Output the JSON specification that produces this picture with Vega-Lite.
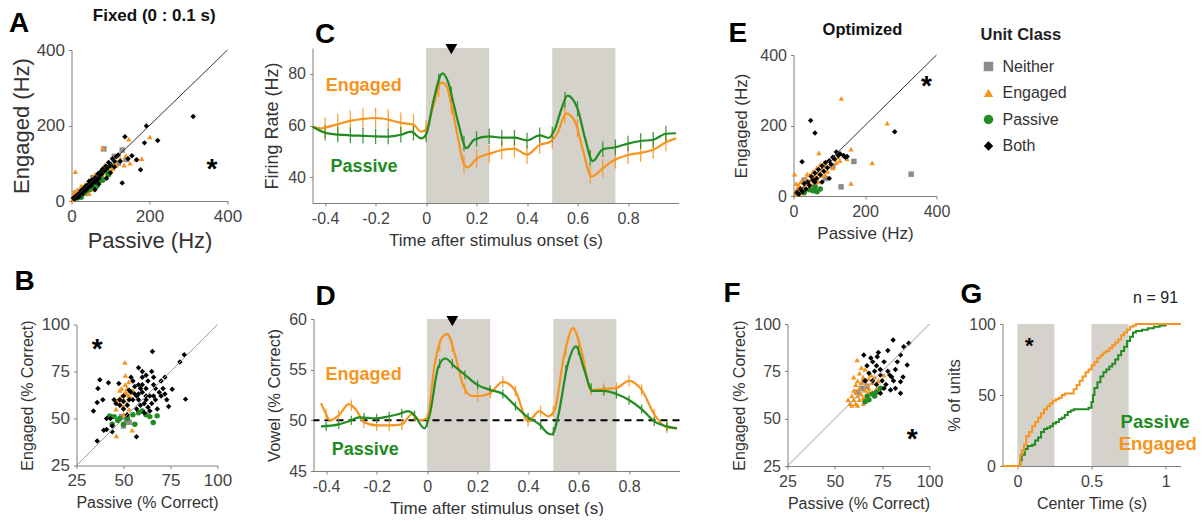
{
"$schema": "https://vega.github.io/schema/vega-lite/v6.json",
"padding": {"left": 8.5, "top": 6, "right": 0, "bottom": 0},
"config": {
  "font": "Liberation Sans",
  "view": {"stroke": null},
  "axis": {"grid": false, "domainColor": "#7f7f7f", "tickColor": "#7f7f7f", "tickSize": 3, "labelColor": "#444444", "titleColor": "#333333", "titleFontWeight": "normal", "labelFlush": false, "labelOverlap": false, "labelPadding": 4, "titlePadding": 6}
},
"resolve": {"scale": {"color": "independent", "shape": "independent"}},
"datasets": {
  "shade": [{"s": 0, "e": 0.25}, {"s": 0.5, "e": 0.75}],
  "a": [
    {"x":10,"y":20,"c":"Neither"},{"x":20,"y":25,"c":"Neither"},{"x":35,"y":30,"c":"Neither"},{"x":50,"y":48,"c":"Neither"},{"x":60,"y":50,"c":"Neither"},{"x":75,"y":70,"c":"Neither"},{"x":83,"y":138,"c":"Neither"},{"x":90,"y":85,"c":"Neither"},{"x":100,"y":92,"c":"Neither"},{"x":120,"y":100,"c":"Neither"},{"x":130,"y":135,"c":"Neither"},{"x":110,"y":118,"c":"Neither"},{"x":140,"y":110,"c":"Neither"},{"x":55,"y":62,"c":"Neither"},{"x":40,"y":20,"c":"Neither"},
    {"x":10,"y":78,"c":"Engaged"},{"x":201,"y":170,"c":"Engaged"},{"x":147,"y":164,"c":"Engaged"},{"x":80,"y":140,"c":"Engaged"},{"x":135,"y":95,"c":"Engaged"},{"x":140,"y":120,"c":"Engaged"},{"x":150,"y":100,"c":"Engaged"},{"x":165,"y":110,"c":"Engaged"},{"x":180,"y":112,"c":"Engaged"},{"x":125,"y":112,"c":"Engaged"},{"x":115,"y":95,"c":"Engaged"},{"x":110,"y":100,"c":"Engaged"},{"x":100,"y":90,"c":"Engaged"},{"x":95,"y":80,"c":"Engaged"},{"x":90,"y":75,"c":"Engaged"},{"x":85,"y":95,"c":"Engaged"},{"x":70,"y":60,"c":"Engaged"},{"x":65,"y":50,"c":"Engaged"},{"x":60,"y":70,"c":"Engaged"},{"x":55,"y":40,"c":"Engaged"},{"x":45,"y":55,"c":"Engaged"},{"x":40,"y":30,"c":"Engaged"},{"x":35,"y":45,"c":"Engaged"},{"x":30,"y":22,"c":"Engaged"},{"x":25,"y":40,"c":"Engaged"},{"x":20,"y":12,"c":"Engaged"},{"x":15,"y":30,"c":"Engaged"},{"x":8,"y":25,"c":"Engaged"},{"x":5,"y":15,"c":"Engaged"},{"x":50,"y":30,"c":"Engaged"},{"x":75,"y":55,"c":"Engaged"},{"x":88,"y":65,"c":"Engaged"},{"x":105,"y":85,"c":"Engaged"},{"x":45,"y":20,"c":"Engaged"},{"x":28,"y":28,"c":"Engaged"},{"x":3,"y":3,"c":"Engaged"},
    {"x":15,"y":8,"c":"Passive"},{"x":20,"y":15,"c":"Passive"},{"x":30,"y":20,"c":"Passive"},{"x":35,"y":25,"c":"Passive"},{"x":40,"y":35,"c":"Passive"},{"x":45,"y":30,"c":"Passive"},{"x":50,"y":40,"c":"Passive"},{"x":55,"y":45,"c":"Passive"},{"x":60,"y":35,"c":"Passive"},{"x":70,"y":55,"c":"Passive"},{"x":75,"y":65,"c":"Passive"},{"x":80,"y":55,"c":"Passive"},{"x":90,"y":80,"c":"Passive"},{"x":95,"y":70,"c":"Passive"},{"x":100,"y":95,"c":"Passive"},{"x":25,"y":10,"c":"Passive"},{"x":65,"y":40,"c":"Passive"},
    {"x":312,"y":224,"c":"Both"},{"x":192,"y":199,"c":"Both"},{"x":221,"y":160,"c":"Both"},{"x":187,"y":154,"c":"Both"},{"x":137,"y":170,"c":"Both"},{"x":177,"y":83,"c":"Both"},{"x":167,"y":109,"c":"Both"},{"x":130,"y":48,"c":"Both"},{"x":155,"y":120,"c":"Both"},{"x":145,"y":112,"c":"Both"},{"x":120,"y":122,"c":"Both"},{"x":115,"y":118,"c":"Both"},{"x":110,"y":105,"c":"Both"},{"x":105,"y":112,"c":"Both"},{"x":100,"y":95,"c":"Both"},{"x":95,"y":102,"c":"Both"},{"x":92,"y":88,"c":"Both"},{"x":88,"y":92,"c":"Both"},{"x":85,"y":80,"c":"Both"},{"x":80,"y":85,"c":"Both"},{"x":78,"y":72,"c":"Both"},{"x":75,"y":78,"c":"Both"},{"x":72,"y":68,"c":"Both"},{"x":70,"y":60,"c":"Both"},{"x":68,"y":72,"c":"Both"},{"x":65,"y":55,"c":"Both"},{"x":62,"y":62,"c":"Both"},{"x":60,"y":50,"c":"Both"},{"x":58,"y":58,"c":"Both"},{"x":55,"y":48,"c":"Both"},{"x":52,"y":55,"c":"Both"},{"x":50,"y":40,"c":"Both"},{"x":48,"y":45,"c":"Both"},{"x":45,"y":52,"c":"Both"},{"x":42,"y":35,"c":"Both"},{"x":40,"y":42,"c":"Both"},{"x":38,"y":30,"c":"Both"},{"x":35,"y":38,"c":"Both"},{"x":32,"y":25,"c":"Both"},{"x":30,"y":32,"c":"Both"},{"x":28,"y":20,"c":"Both"},{"x":25,"y":28,"c":"Both"},{"x":22,"y":22,"c":"Both"},{"x":20,"y":12,"c":"Both"},{"x":18,"y":18,"c":"Both"},{"x":15,"y":10,"c":"Both"},{"x":12,"y":14,"c":"Both"},{"x":8,"y":5,"c":"Both"},{"x":5,"y":8,"c":"Both"},{"x":125,"y":105,"c":"Both"},{"x":70,"y":45,"c":"Both"},{"x":90,"y":60,"c":"Both"},{"x":60,"y":30,"c":"Both"},{"x":100,"y":75,"c":"Both"},{"x":110,"y":90,"c":"Both"}
  ],
  "b": [
    {"x":51.6,"y":48.8,"c":"Neither"},{"x":52,"y":50,"c":"Neither"},{"x":50,"y":46,"c":"Neither"},{"x":53,"y":48,"c":"Neither"},{"x":49,"y":51,"c":"Neither"},
    {"x":50.7,"y":79.8,"c":"Engaged"},{"x":52.8,"y":69.5,"c":"Engaged"},{"x":46.2,"y":40.8,"c":"Engaged"},{"x":54.6,"y":43.8,"c":"Engaged"},{"x":48,"y":65,"c":"Engaged"},{"x":49,"y":62,"c":"Engaged"},{"x":50,"y":60,"c":"Engaged"},{"x":51,"y":64,"c":"Engaged"},{"x":52,"y":58,"c":"Engaged"},{"x":53,"y":62,"c":"Engaged"},{"x":48,"y":58,"c":"Engaged"},{"x":49,"y":66,"c":"Engaged"},{"x":50,"y":56,"c":"Engaged"},{"x":51,"y":68,"c":"Engaged"},{"x":52,"y":63,"c":"Engaged"},{"x":53,"y":55,"c":"Engaged"},{"x":47,"y":60,"c":"Engaged"},{"x":54,"y":61,"c":"Engaged"},{"x":50,"y":52,"c":"Engaged"},{"x":46,"y":55,"c":"Engaged"},{"x":52,"y":66,"c":"Engaged"},{"x":49,"y":57,"c":"Engaged"},{"x":55,"y":65,"c":"Engaged"},{"x":51,"y":73,"c":"Engaged"},
    {"x":42.6,"y":51.4,"c":"Passive"},{"x":65.8,"y":47.9,"c":"Passive"},{"x":67.9,"y":51.4,"c":"Passive"},{"x":45,"y":51,"c":"Passive"},{"x":48,"y":50,"c":"Passive"},{"x":52,"y":50,"c":"Passive"},{"x":55,"y":52,"c":"Passive"},{"x":58,"y":53,"c":"Passive"},{"x":60,"y":54,"c":"Passive"},{"x":62,"y":52,"c":"Passive"},{"x":64,"y":51,"c":"Passive"},{"x":47,"y":49,"c":"Passive"},{"x":50,"y":47,"c":"Passive"},{"x":56,"y":47,"c":"Passive"},{"x":44,"y":47,"c":"Passive"},
    {"x":36,"y":38,"c":"Both"},{"x":34,"y":54,"c":"Both"},{"x":36,"y":58.5,"c":"Both"},{"x":37.4,"y":70.6,"c":"Both"},{"x":36.4,"y":66,"c":"Both"},{"x":42,"y":69,"c":"Both"},{"x":47.5,"y":68.6,"c":"Both"},{"x":65.4,"y":85.6,"c":"Both"},{"x":83,"y":60.3,"c":"Both"},{"x":82.3,"y":83.9,"c":"Both"},{"x":80,"y":80,"c":"Both"},{"x":75.9,"y":65.6,"c":"Both"},{"x":74,"y":56.4,"c":"Both"},{"x":56.9,"y":40.3,"c":"Both"},{"x":39.5,"y":43.8,"c":"Both"},{"x":41,"y":44.2,"c":"Both"},{"x":44,"y":46,"c":"Both"},{"x":43,"y":50,"c":"Both"},{"x":46,"y":58,"c":"Both"},{"x":48,"y":60,"c":"Both"},{"x":50,"y":62,"c":"Both"},{"x":52,"y":57,"c":"Both"},{"x":53,"y":65,"c":"Both"},{"x":54,"y":72,"c":"Both"},{"x":55,"y":60,"c":"Both"},{"x":56,"y":63,"c":"Both"},{"x":57,"y":55,"c":"Both"},{"x":58,"y":68,"c":"Both"},{"x":58,"y":60,"c":"Both"},{"x":59,"y":57,"c":"Both"},{"x":60,"y":72,"c":"Both"},{"x":60,"y":64,"c":"Both"},{"x":61,"y":58,"c":"Both"},{"x":62,"y":66,"c":"Both"},{"x":62,"y":60,"c":"Both"},{"x":63,"y":70,"c":"Both"},{"x":63,"y":56,"c":"Both"},{"x":64,"y":62,"c":"Both"},{"x":65,"y":75,"c":"Both"},{"x":65,"y":58,"c":"Both"},{"x":66,"y":68,"c":"Both"},{"x":66,"y":62,"c":"Both"},{"x":67,"y":60,"c":"Both"},{"x":68,"y":55,"c":"Both"},{"x":69,"y":64,"c":"Both"},{"x":70,"y":70,"c":"Both"},{"x":70,"y":62,"c":"Both"},{"x":72,"y":72,"c":"Both"},{"x":72,"y":63,"c":"Both"},{"x":73,"y":60,"c":"Both"},{"x":60,"y":75,"c":"Both"},{"x":58,"y":77,"c":"Both"},{"x":55,"y":70,"c":"Both"},{"x":52,"y":52,"c":"Both"},{"x":50,"y":55,"c":"Both"},{"x":48,"y":57,"c":"Both"},{"x":61,"y":53,"c":"Both"},{"x":64,"y":54,"c":"Both"},{"x":67,"y":66,"c":"Both"},{"x":57,"y":62,"c":"Both"},{"x":59,"y":66,"c":"Both"},{"x":62,"y":73,"c":"Both"},{"x":66,"y":72,"c":"Both"},{"x":53,"y":60,"c":"Both"},{"x":56,"y":67,"c":"Both"},{"x":71,"y":66,"c":"Both"},{"x":60,"y":68,"c":"Both"},{"x":54,"y":64,"c":"Both"},{"x":58,"y":63,"c":"Both"},{"x":62,"y":62,"c":"Both"},{"x":50,"y":59,"c":"Both"},{"x":45,"y":60,"c":"Both"},{"x":41,"y":50,"c":"Both"},{"x":44,"y":43,"c":"Both"},{"x":39,"y":60,"c":"Both"}
  ],
  "e": [
    {"x":329,"y":62,"c":"Neither"},{"x":169,"y":98,"c":"Neither"},{"x":133,"y":26,"c":"Neither"},{"x":30,"y":45,"c":"Neither"},{"x":60,"y":30,"c":"Neither"},{"x":90,"y":50,"c":"Neither"},{"x":20,"y":15,"c":"Neither"},{"x":110,"y":85,"c":"Neither"},
    {"x":134,"y":277,"c":"Engaged"},{"x":262,"y":207,"c":"Engaged"},{"x":220,"y":94,"c":"Engaged"},{"x":161,"y":133,"c":"Engaged"},{"x":161,"y":36,"c":"Engaged"},{"x":3,"y":62,"c":"Engaged"},{"x":71,"y":122,"c":"Engaged"},{"x":5,"y":10,"c":"Engaged"},{"x":10,"y":20,"c":"Engaged"},{"x":15,"y":30,"c":"Engaged"},{"x":20,"y":40,"c":"Engaged"},{"x":25,"y":15,"c":"Engaged"},{"x":30,"y":25,"c":"Engaged"},{"x":35,"y":50,"c":"Engaged"},{"x":40,"y":35,"c":"Engaged"},{"x":45,"y":60,"c":"Engaged"},{"x":50,"y":45,"c":"Engaged"},{"x":55,"y":70,"c":"Engaged"},{"x":60,"y":55,"c":"Engaged"},{"x":65,"y":80,"c":"Engaged"},{"x":70,"y":65,"c":"Engaged"},{"x":75,"y":90,"c":"Engaged"},{"x":80,"y":75,"c":"Engaged"},{"x":85,"y":95,"c":"Engaged"},{"x":90,"y":85,"c":"Engaged"},{"x":95,"y":70,"c":"Engaged"},{"x":100,"y":100,"c":"Engaged"},{"x":105,"y":90,"c":"Engaged"},{"x":110,"y":80,"c":"Engaged"},{"x":115,"y":105,"c":"Engaged"},{"x":120,"y":95,"c":"Engaged"},{"x":125,"y":110,"c":"Engaged"},{"x":130,"y":100,"c":"Engaged"},{"x":140,"y":115,"c":"Engaged"},{"x":150,"y":105,"c":"Engaged"},{"x":12,"y":5,"c":"Engaged"},{"x":18,"y":25,"c":"Engaged"},{"x":28,"y":8,"c":"Engaged"},{"x":8,"y":35,"c":"Engaged"},{"x":42,"y":20,"c":"Engaged"},{"x":52,"y":30,"c":"Engaged"},{"x":38,"y":62,"c":"Engaged"},{"x":62,"y":48,"c":"Engaged"},{"x":88,"y":60,"c":"Engaged"},{"x":70,"y":40,"c":"Engaged"},{"x":78,"y":58,"c":"Engaged"},
    {"x":66,"y":12,"c":"Passive"},{"x":55,"y":15,"c":"Passive"},{"x":45,"y":18,"c":"Passive"},{"x":30,"y":10,"c":"Passive"},{"x":75,"y":20,"c":"Passive"},{"x":60,"y":25,"c":"Passive"},
    {"x":283,"y":182,"c":"Both"},{"x":48,"y":214,"c":"Both"},{"x":60,"y":179,"c":"Both"},{"x":24,"y":97,"c":"Both"},{"x":10,"y":10,"c":"Both"},{"x":20,"y":20,"c":"Both"},{"x":30,"y":35,"c":"Both"},{"x":40,"y":40,"c":"Both"},{"x":50,"y":55,"c":"Both"},{"x":55,"y":45,"c":"Both"},{"x":60,"y":65,"c":"Both"},{"x":65,"y":50,"c":"Both"},{"x":70,"y":75,"c":"Both"},{"x":75,"y":60,"c":"Both"},{"x":80,"y":85,"c":"Both"},{"x":85,"y":70,"c":"Both"},{"x":90,"y":95,"c":"Both"},{"x":95,"y":80,"c":"Both"},{"x":100,"y":100,"c":"Both"},{"x":105,"y":90,"c":"Both"},{"x":110,"y":110,"c":"Both"},{"x":115,"y":105,"c":"Both"},{"x":120,"y":125,"c":"Both"},{"x":125,"y":115,"c":"Both"},{"x":130,"y":120,"c":"Both"},{"x":140,"y":115,"c":"Both"},{"x":145,"y":110,"c":"Both"},{"x":150,"y":112,"c":"Both"},{"x":100,"y":50,"c":"Both"},{"x":80,"y":40,"c":"Both"},{"x":60,"y":40,"c":"Both"},{"x":45,"y":30,"c":"Both"},{"x":35,"y":20,"c":"Both"},{"x":15,"y":5,"c":"Both"},{"x":25,"y":12,"c":"Both"}
  ],
  "f": [
    {"x":65.6,"y":70,"c":"Neither"},{"x":64,"y":66,"c":"Neither"},{"x":62,"y":64,"c":"Neither"},{"x":67,"y":67,"c":"Neither"},
    {"x":61.8,"y":81,"c":"Engaged"},{"x":58,"y":58,"c":"Engaged"},{"x":59,"y":62,"c":"Engaged"},{"x":60,"y":60,"c":"Engaged"},{"x":60,"y":65,"c":"Engaged"},{"x":61,"y":58,"c":"Engaged"},{"x":61,"y":68,"c":"Engaged"},{"x":62,"y":62,"c":"Engaged"},{"x":62,"y":70,"c":"Engaged"},{"x":63,"y":60,"c":"Engaged"},{"x":63,"y":66,"c":"Engaged"},{"x":63,"y":74,"c":"Engaged"},{"x":64,"y":63,"c":"Engaged"},{"x":64,"y":69,"c":"Engaged"},{"x":65,"y":61,"c":"Engaged"},{"x":65,"y":72,"c":"Engaged"},{"x":66,"y":65,"c":"Engaged"},{"x":66,"y":76,"c":"Engaged"},{"x":67,"y":68,"c":"Engaged"},{"x":67,"y":62,"c":"Engaged"},{"x":68,"y":71,"c":"Engaged"},{"x":68,"y":66,"c":"Engaged"},{"x":69,"y":73,"c":"Engaged"},{"x":70,"y":64,"c":"Engaged"},{"x":70,"y":69,"c":"Engaged"},{"x":71,"y":72,"c":"Engaged"},{"x":72,"y":66,"c":"Engaged"},{"x":73,"y":70,"c":"Engaged"},{"x":59,"y":57,"c":"Engaged"},{"x":62,"y":57,"c":"Engaged"},{"x":65,"y":58,"c":"Engaged"},{"x":60,"y":72,"c":"Engaged"},{"x":64,"y":77,"c":"Engaged"},{"x":66,"y":60,"c":"Engaged"},{"x":68,"y":64,"c":"Engaged"},{"x":61,"y":64,"c":"Engaged"},{"x":76,"y":73,"c":"Engaged"},{"x":57,"y":60,"c":"Engaged"},
    {"x":74.1,"y":66.1,"c":"Passive"},{"x":67.1,"y":61.8,"c":"Passive"},{"x":69.8,"y":63,"c":"Passive"},{"x":71,"y":62,"c":"Passive"},{"x":72,"y":64,"c":"Passive"},{"x":66,"y":59,"c":"Passive"},{"x":68,"y":60,"c":"Passive"},
    {"x":80.8,"y":91.6,"c":"Both"},{"x":89,"y":89.8,"c":"Both"},{"x":86.4,"y":88,"c":"Both"},{"x":84.7,"y":83.6,"c":"Both"},{"x":65.3,"y":83.6,"c":"Both"},{"x":72.4,"y":82.7,"c":"Both"},{"x":88.2,"y":78.4,"c":"Both"},{"x":84.7,"y":63.4,"c":"Both"},{"x":79.4,"y":65.1,"c":"Both"},{"x":74.1,"y":63.4,"c":"Both"},{"x":84.7,"y":69.5,"c":"Both"},{"x":70,"y":80,"c":"Both"},{"x":72,"y":78,"c":"Both"},{"x":74,"y":76,"c":"Both"},{"x":76,"y":80,"c":"Both"},{"x":78,"y":75,"c":"Both"},{"x":80,"y":72,"c":"Both"},{"x":82,"y":76,"c":"Both"},{"x":68,"y":74,"c":"Both"},{"x":70,"y":70,"c":"Both"},{"x":72,"y":68,"c":"Both"},{"x":75,"y":70,"c":"Both"},{"x":77,"y":68,"c":"Both"},{"x":79,"y":73,"c":"Both"},{"x":81,"y":70,"c":"Both"},{"x":74,"y":73,"c":"Both"},{"x":76,"y":66,"c":"Both"},{"x":86,"y":72,"c":"Both"},{"x":83,"y":80,"c":"Both"},{"x":67,"y":78,"c":"Both"},{"x":69,"y":82,"c":"Both"},{"x":73,"y":85,"c":"Both"},{"x":78,"y":86,"c":"Both"},{"x":71,"y":75,"c":"Both"},{"x":66,"y":70,"c":"Both"},{"x":82,"y":66,"c":"Both"}
  ],
  "cE": [{"t":-0.45,"v":59.6},{"t":-0.42,"v":58.9},{"t":-0.4,"v":59.2},{"t":-0.35,"v":60.5},{"t":-0.3,"v":61.8},{"t":-0.25,"v":62.6},{"t":-0.2,"v":62.9},{"t":-0.15,"v":62.3},{"t":-0.1,"v":61.0},{"t":-0.05,"v":60.4},{"t":-0.02,"v":57.6},{"t":0,"v":58.5},{"t":0.03,"v":68},{"t":0.06,"v":76.6},{"t":0.08,"v":75.5},{"t":0.1,"v":68},{"t":0.125,"v":56},{"t":0.15,"v":45},{"t":0.165,"v":43.8},{"t":0.2,"v":47.2},{"t":0.25,"v":49.0},{"t":0.3,"v":50.5},{"t":0.35,"v":51.0},{"t":0.4,"v":48.7},{"t":0.45,"v":52.5},{"t":0.49,"v":53.6},{"t":0.52,"v":57},{"t":0.555,"v":64.7},{"t":0.59,"v":61.5},{"t":0.62,"v":51},{"t":0.655,"v":40.2},{"t":0.67,"v":40.8},{"t":0.7,"v":43.5},{"t":0.75,"v":46.8},{"t":0.8,"v":48.6},{"t":0.85,"v":49.4},{"t":0.9,"v":50.6},{"t":0.95,"v":53.5},{"t":0.99,"v":55.0}],
  "cP": [{"t":-0.45,"v":59.5},{"t":-0.4,"v":57.2},{"t":-0.35,"v":56.5},{"t":-0.3,"v":56.2},{"t":-0.25,"v":56.0},{"t":-0.2,"v":55.8},{"t":-0.15,"v":55.7},{"t":-0.1,"v":56.4},{"t":-0.06,"v":57.6},{"t":-0.02,"v":55.0},{"t":0,"v":56.5},{"t":0.03,"v":70},{"t":0.065,"v":80.2},{"t":0.09,"v":76},{"t":0.11,"v":68},{"t":0.13,"v":60},{"t":0.16,"v":51.2},{"t":0.19,"v":54.5},{"t":0.25,"v":55.8},{"t":0.3,"v":55.3},{"t":0.35,"v":55.3},{"t":0.4,"v":54.2},{"t":0.45,"v":56.2},{"t":0.485,"v":55.2},{"t":0.51,"v":58.5},{"t":0.535,"v":66},{"t":0.56,"v":71.6},{"t":0.6,"v":66.5},{"t":0.63,"v":55},{"t":0.66,"v":46.2},{"t":0.7,"v":50.8},{"t":0.75,"v":51.6},{"t":0.8,"v":53.0},{"t":0.85,"v":54.0},{"t":0.9,"v":54.5},{"t":0.95,"v":56.8},{"t":0.99,"v":57.0}],
  "cEe": [{"t":-0.4,"lo":55.2,"hi":63.2},{"t":-0.35,"lo":56.5,"hi":64.5},{"t":-0.3,"lo":57.8,"hi":65.8},{"t":-0.25,"lo":58.6,"hi":66.6},{"t":-0.2,"lo":58.9,"hi":66.9},{"t":-0.15,"lo":58.3,"hi":66.3},{"t":-0.1,"lo":57.0,"hi":65.0},{"t":-0.05,"lo":56.4,"hi":64.4},{"t":0,"lo":55,"hi":62},{"t":0.05,"lo":71,"hi":78},{"t":0.1,"lo":64.5,"hi":71.5},{"t":0.15,"lo":41.5,"hi":48.5},{"t":0.2,"lo":43.7,"hi":50.7},{"t":0.25,"lo":45.5,"hi":52.5},{"t":0.3,"lo":47,"hi":54},{"t":0.35,"lo":47.5,"hi":54.5},{"t":0.4,"lo":45.2,"hi":52.2},{"t":0.45,"lo":49,"hi":56},{"t":0.5,"lo":51,"hi":58},{"t":0.55,"lo":60.8,"hi":67.8},{"t":0.6,"lo":55.5,"hi":62.5},{"t":0.65,"lo":37.5,"hi":44.5},{"t":0.7,"lo":40,"hi":47},{"t":0.75,"lo":43.3,"hi":50.3},{"t":0.8,"lo":45.1,"hi":52.1},{"t":0.85,"lo":45.9,"hi":52.9},{"t":0.9,"lo":47.1,"hi":54.1},{"t":0.95,"lo":50,"hi":57}],
  "cPe": [{"t":-0.4,"lo":54.2,"hi":60.2},{"t":-0.35,"lo":53.5,"hi":59.5},{"t":-0.3,"lo":53.2,"hi":59.2},{"t":-0.25,"lo":53,"hi":59},{"t":-0.2,"lo":52.8,"hi":58.8},{"t":-0.15,"lo":52.7,"hi":58.7},{"t":-0.1,"lo":53.4,"hi":59.4},{"t":-0.05,"lo":54.2,"hi":60.2},{"t":0,"lo":53.5,"hi":59.5},{"t":0.05,"lo":74,"hi":80},{"t":0.1,"lo":69,"hi":75},{"t":0.15,"lo":50,"hi":56},{"t":0.2,"lo":51.8,"hi":57.8},{"t":0.25,"lo":52.8,"hi":58.8},{"t":0.3,"lo":52.3,"hi":58.3},{"t":0.35,"lo":52.3,"hi":58.3},{"t":0.4,"lo":51.2,"hi":57.2},{"t":0.45,"lo":53.2,"hi":59.2},{"t":0.5,"lo":53.5,"hi":59.5},{"t":0.55,"lo":67,"hi":73},{"t":0.6,"lo":63.5,"hi":69.5},{"t":0.65,"lo":44.5,"hi":50.5},{"t":0.7,"lo":47.8,"hi":53.8},{"t":0.75,"lo":48.6,"hi":54.6},{"t":0.8,"lo":50,"hi":56},{"t":0.85,"lo":51,"hi":57},{"t":0.9,"lo":51.5,"hi":57.5},{"t":0.95,"lo":53.8,"hi":59.8}],
  "dE": [{"t":-0.42,"v":51.7},{"t":-0.4,"v":50.6},{"t":-0.385,"v":50.0},{"t":-0.35,"v":50.5},{"t":-0.31,"v":51.6},{"t":-0.28,"v":51.0},{"t":-0.25,"v":49.8},{"t":-0.2,"v":49.5},{"t":-0.15,"v":49.5},{"t":-0.1,"v":49.6},{"t":-0.06,"v":50.6},{"t":-0.03,"v":50.0},{"t":0,"v":50.2},{"t":0.03,"v":55.5},{"t":0.06,"v":58.2},{"t":0.08,"v":58.5},{"t":0.11,"v":56.5},{"t":0.145,"v":53.3},{"t":0.18,"v":52.4},{"t":0.21,"v":52.4},{"t":0.25,"v":52.7},{"t":0.3,"v":53.8},{"t":0.35,"v":52.9},{"t":0.4,"v":49.9},{"t":0.445,"v":50.9},{"t":0.48,"v":50.4},{"t":0.505,"v":51.0},{"t":0.54,"v":56},{"t":0.578,"v":59.1},{"t":0.61,"v":57},{"t":0.65,"v":53},{"t":0.7,"v":53.1},{"t":0.75,"v":53.2},{"t":0.8,"v":53.9},{"t":0.85,"v":53.0},{"t":0.9,"v":50.6},{"t":0.95,"v":49.3},{"t":0.99,"v":49.2}],
  "dP": [{"t":-0.42,"v":49.4},{"t":-0.35,"v":49.6},{"t":-0.3,"v":50.0},{"t":-0.27,"v":50.3},{"t":-0.2,"v":50.2},{"t":-0.15,"v":50.4},{"t":-0.115,"v":50.6},{"t":-0.075,"v":50.9},{"t":-0.05,"v":50.5},{"t":-0.01,"v":49.2},{"t":0.01,"v":50.5},{"t":0.045,"v":55.3},{"t":0.072,"v":56.1},{"t":0.11,"v":55.3},{"t":0.15,"v":54.5},{"t":0.2,"v":53.5},{"t":0.25,"v":53.0},{"t":0.3,"v":52.6},{"t":0.35,"v":51.4},{"t":0.4,"v":50.3},{"t":0.445,"v":49.6},{"t":0.48,"v":48.7},{"t":0.495,"v":48.6},{"t":0.52,"v":50.5},{"t":0.555,"v":55.3},{"t":0.59,"v":57.3},{"t":0.62,"v":55.2},{"t":0.655,"v":52.9},{"t":0.7,"v":52.9},{"t":0.75,"v":52.6},{"t":0.8,"v":52.0},{"t":0.85,"v":51.1},{"t":0.9,"v":49.9},{"t":0.95,"v":49.4},{"t":0.99,"v":49.2}],
  "dEe": [{"t":-0.4,"lo":50.05,"hi":51.15},{"t":-0.35,"lo":49.95,"hi":51.05},{"t":-0.3,"lo":50.95,"hi":52.05},{"t":-0.25,"lo":49.25,"hi":50.35},{"t":-0.2,"lo":48.95,"hi":50.05},{"t":-0.15,"lo":48.95,"hi":50.05},{"t":-0.1,"lo":49.05,"hi":50.15},{"t":-0.05,"lo":49.85,"hi":50.95},{"t":0,"lo":49.65,"hi":50.75},{"t":0.05,"lo":56.85,"hi":57.95},{"t":0.1,"lo":56.75,"hi":57.85},{"t":0.15,"lo":52.55,"hi":53.65},{"t":0.2,"lo":51.85,"hi":52.95},{"t":0.25,"lo":52.15,"hi":53.25},{"t":0.3,"lo":53.25,"hi":54.35},{"t":0.35,"lo":52.35,"hi":53.45},{"t":0.4,"lo":49.35,"hi":50.45},{"t":0.45,"lo":50.35,"hi":51.45},{"t":0.5,"lo":50.35,"hi":51.45},{"t":0.55,"lo":56.45,"hi":57.55},{"t":0.6,"lo":57.25,"hi":58.35},{"t":0.65,"lo":52.45,"hi":53.55},{"t":0.7,"lo":52.55,"hi":53.65},{"t":0.75,"lo":52.65,"hi":53.75},{"t":0.8,"lo":53.35,"hi":54.45},{"t":0.85,"lo":52.45,"hi":53.55},{"t":0.9,"lo":50.05,"hi":51.15},{"t":0.95,"lo":48.75,"hi":49.85}],
  "dPe": [{"t":-0.4,"lo":48.95,"hi":49.85},{"t":-0.35,"lo":49.15,"hi":50.05},{"t":-0.3,"lo":49.55,"hi":50.45},{"t":-0.25,"lo":49.85,"hi":50.75},{"t":-0.2,"lo":49.75,"hi":50.65},{"t":-0.15,"lo":49.95,"hi":50.85},{"t":-0.1,"lo":50.25,"hi":51.15},{"t":-0.05,"lo":50.05,"hi":50.95},{"t":0,"lo":49.35,"hi":50.25},{"t":0.05,"lo":55.15,"hi":56.05},{"t":0.1,"lo":55.15,"hi":56.05},{"t":0.15,"lo":54.05,"hi":54.95},{"t":0.2,"lo":53.05,"hi":53.95},{"t":0.25,"lo":52.55,"hi":53.45},{"t":0.3,"lo":52.15,"hi":53.05},{"t":0.35,"lo":50.95,"hi":51.85},{"t":0.4,"lo":49.85,"hi":50.75},{"t":0.45,"lo":49.05,"hi":49.95},{"t":0.5,"lo":48.45,"hi":49.35},{"t":0.55,"lo":54.55,"hi":55.45},{"t":0.6,"lo":56.45,"hi":57.35},{"t":0.65,"lo":52.75,"hi":53.65},{"t":0.7,"lo":52.45,"hi":53.35},{"t":0.75,"lo":52.15,"hi":53.05},{"t":0.8,"lo":51.55,"hi":52.45},{"t":0.85,"lo":50.65,"hi":51.55},{"t":0.9,"lo":49.45,"hi":50.35},{"t":0.95,"lo":48.95,"hi":49.85}],
  "gE": [{"t":-0.1,"v":0},{"t":0.015,"v":0},{"t":0.02,"v":8},{"t":0.03,"v":11},{"t":0.045,"v":15},{"t":0.06,"v":21},{"t":0.08,"v":24},{"t":0.1,"v":28},{"t":0.12,"v":31},{"t":0.14,"v":34},{"t":0.16,"v":37},{"t":0.18,"v":40},{"t":0.2,"v":42},{"t":0.22,"v":44},{"t":0.24,"v":46},{"t":0.26,"v":47},{"t":0.28,"v":48},{"t":0.3,"v":50},{"t":0.32,"v":51},{"t":0.36,"v":51},{"t":0.38,"v":54},{"t":0.4,"v":57},{"t":0.42,"v":60},{"t":0.44,"v":63},{"t":0.46,"v":66},{"t":0.48,"v":68},{"t":0.5,"v":71},{"t":0.52,"v":73},{"t":0.54,"v":76},{"t":0.56,"v":78},{"t":0.58,"v":80},{"t":0.6,"v":81},{"t":0.62,"v":83},{"t":0.64,"v":85},{"t":0.66,"v":87},{"t":0.68,"v":89},{"t":0.7,"v":92},{"t":0.72,"v":94},{"t":0.74,"v":96},{"t":0.76,"v":98},{"t":0.78,"v":99},{"t":0.8,"v":100},{"t":1.1,"v":100}],
  "gP": [{"t":-0.1,"v":0},{"t":0.015,"v":0},{"t":0.02,"v":4},{"t":0.03,"v":8},{"t":0.05,"v":12},{"t":0.07,"v":14},{"t":0.1,"v":15},{"t":0.12,"v":18},{"t":0.14,"v":20},{"t":0.16,"v":24},{"t":0.18,"v":26},{"t":0.2,"v":27},{"t":0.22,"v":28},{"t":0.24,"v":30},{"t":0.26,"v":31},{"t":0.28,"v":33},{"t":0.3,"v":34},{"t":0.32,"v":36},{"t":0.34,"v":38},{"t":0.36,"v":39},{"t":0.38,"v":40},{"t":0.44,"v":40},{"t":0.48,"v":41},{"t":0.5,"v":45},{"t":0.51,"v":50},{"t":0.52,"v":55},{"t":0.54,"v":59},{"t":0.56,"v":63},{"t":0.58,"v":66},{"t":0.6,"v":68},{"t":0.62,"v":70},{"t":0.64,"v":72},{"t":0.66,"v":75},{"t":0.68,"v":78},{"t":0.7,"v":81},{"t":0.72,"v":84},{"t":0.74,"v":88},{"t":0.76,"v":91},{"t":0.78,"v":94},{"t":0.8,"v":95},{"t":0.84,"v":96},{"t":0.88,"v":97},{"t":0.92,"v":98},{"t":0.96,"v":99},{"t":1.0,"v":100},{"t":1.1,"v":100}]
},
"spacing": 16,
"vconcat": [
{
  "hconcat": [
    {
      "width": 156, "height": 151,
      "layer": [
        {"data": {"name": "a"}, "mark": {"type": "point", "filled": true, "size": 30, "opacity": 1},
         "encoding": {
           "x": {"field": "x", "type": "quantitative", "scale": {"domain": [0, 400], "nice": false, "zero": false}, "axis": {"title": "Passive (Hz)", "values": [0, 200, 400], "titleFontSize": 22, "labelFontSize": 17}},
           "y": {"field": "y", "type": "quantitative", "scale": {"domain": [0, 400], "nice": false, "zero": false}, "axis": {"title": "Engaged (Hz)", "values": [0, 100, 200, 300, 400], "titleFontSize": 22, "labelFontSize": 17, "titlePadding": 3}},
           "color": {"field": "c", "type": "nominal", "scale": {"domain": ["Neither", "Engaged", "Passive", "Both"], "range": ["#8c8c8c", "#f7941d", "#228b22", "#000000"]}, "legend": null},
           "shape": {"field": "c", "type": "nominal", "scale": {"domain": ["Neither", "Engaged", "Passive", "Both"], "range": ["square", "triangle-up", "circle", "diamond"]}, "legend": null}}},
        {"data": {"values": [{}]}, "mark": {"type": "rule", "color": "#333333", "strokeWidth": 1}, "encoding": {"x": {"datum": 0}, "y": {"datum": 0}, "x2": {"datum": 400}, "y2": {"datum": 400}}},
        {"data": {"values": [{}]}, "mark": {"type": "text", "text": "A", "fontSize": 28, "fontWeight": "bold", "align": "left", "baseline": "alphabetic", "color": "#000000"}, "encoding": {"x": {"datum": -160}, "y": {"datum": 448}}},
        {"data": {"values": [{}]}, "mark": {"type": "text", "text": "Fixed (0 : 0.1 s)", "fontSize": 17, "fontWeight": "bold", "align": "center", "baseline": "alphabetic", "color": "#111111"}, "encoding": {"x": {"datum": 212}, "y": {"datum": 478}}},
        {"data": {"values": [{}]}, "mark": {"type": "text", "text": "*", "fontSize": 28, "fontWeight": "bold", "align": "center", "baseline": "alphabetic", "color": "#000000"}, "encoding": {"x": {"datum": 360}, "y": {"datum": 62}}}
      ]
    },
    {"width": 85, "height": 10, "data": {"values": []}, "mark": "point"},
    {
      "width": 366, "height": 155,
      "layer": [
        {"data": {"name": "shade"}, "mark": {"type": "rect", "color": "#d5d1cb"},
         "encoding": {
           "x": {"field": "s", "type": "quantitative", "scale": {"domain": [-0.45, 1.0], "nice": false, "zero": false}, "axis": {"title": "Time after stimulus onset (s)", "values": [-0.4, -0.2, 0, 0.2, 0.4, 0.6, 0.8], "labelExpr": "toString(datum.value)", "titleFontSize": 17, "labelFontSize": 16}},
           "x2": {"field": "e"},
           "y": {"datum": 90, "type": "quantitative", "scale": {"domain": [30, 90], "nice": false, "zero": false}, "axis": {"title": "Firing Rate (Hz)", "values": [40, 60, 80], "titleFontSize": 18, "labelFontSize": 16}},
           "y2": {"datum": 30}}},
        {"data": {"name": "cEe"}, "mark": {"type": "rule", "color": "#f7941d", "strokeWidth": 1.3, "opacity": 0.85}, "encoding": {"x": {"field": "t", "type": "quantitative"}, "y": {"field": "lo", "type": "quantitative"}, "y2": {"field": "hi"}}},
        {"data": {"name": "cPe"}, "mark": {"type": "rule", "color": "#228b22", "strokeWidth": 1.3, "opacity": 0.85}, "encoding": {"x": {"field": "t", "type": "quantitative"}, "y": {"field": "lo", "type": "quantitative"}, "y2": {"field": "hi"}}},
        {"data": {"name": "cE"}, "mark": {"type": "line", "color": "#f7941d", "strokeWidth": 2.2, "interpolate": "monotone"}, "encoding": {"x": {"field": "t", "type": "quantitative"}, "y": {"field": "v", "type": "quantitative"}}},
        {"data": {"name": "cP"}, "mark": {"type": "line", "color": "#228b22", "strokeWidth": 2.2, "interpolate": "monotone"}, "encoding": {"x": {"field": "t", "type": "quantitative"}, "y": {"field": "v", "type": "quantitative"}}},
        {"data": {"values": [{}]}, "mark": {"type": "point", "shape": "triangle-down", "filled": true, "color": "#000000", "size": 140, "opacity": 1}, "encoding": {"x": {"datum": 0.1}, "y": {"datum": 89.6}}},
        {"data": {"values": [{}]}, "mark": {"type": "text", "text": "C", "fontSize": 28, "fontWeight": "bold", "align": "left", "baseline": "alphabetic", "color": "#000000"}, "encoding": {"x": {"datum": -0.44}, "y": {"datum": 91.9}}},
        {"data": {"values": [{}]}, "mark": {"type": "text", "text": "Engaged", "fontSize": 18, "fontWeight": "bold", "align": "left", "baseline": "alphabetic", "color": "#f7941d"}, "encoding": {"x": {"datum": -0.398}, "y": {"datum": 73.2}}},
        {"data": {"values": [{}]}, "mark": {"type": "text", "text": "Passive", "fontSize": 18, "fontWeight": "bold", "align": "left", "baseline": "alphabetic", "color": "#228b22"}, "encoding": {"x": {"datum": -0.379}, "y": {"datum": 42.0}}}
      ]
    },
    {"width": 115, "height": 10, "data": {"values": []}, "mark": "point"},
    {
      "width": 143, "height": 141,
      "layer": [
        {"data": {"name": "e"}, "mark": {"type": "point", "filled": true, "size": 30, "opacity": 1},
         "encoding": {
           "x": {"field": "x", "type": "quantitative", "scale": {"domain": [0, 400], "nice": false, "zero": false}, "axis": {"title": "Passive (Hz)", "values": [0, 200, 400], "titleFontSize": 17, "labelFontSize": 16}},
           "y": {"field": "y", "type": "quantitative", "scale": {"domain": [0, 400], "nice": false, "zero": false}, "axis": {"title": "Engaged (Hz)", "values": [0, 200, 400], "titleFontSize": 17, "labelFontSize": 16, "titlePadding": 9}},
           "color": {"field": "c", "type": "nominal", "scale": {"domain": ["Neither", "Engaged", "Passive", "Both"], "range": ["#8c8c8c", "#f7941d", "#228b22", "#000000"]}, "legend": {"orient": "none", "legendX": 187, "legendY": -28, "title": "Unit Class", "titleFontSize": 16.5, "titleFontWeight": "bold", "titleColor": "#222222", "labelFontSize": 16, "labelColor": "#333333", "symbolSize": 90, "rowPadding": 10.5, "titlePadding": 15, "labelOffset": 6}},
           "shape": {"field": "c", "type": "nominal", "scale": {"domain": ["Neither", "Engaged", "Passive", "Both"], "range": ["square", "triangle-up", "circle", "diamond"]}, "legend": {"orient": "none", "legendX": 187, "legendY": -28, "title": "Unit Class", "titleFontSize": 16.5, "titleFontWeight": "bold", "titleColor": "#222222", "labelFontSize": 16, "labelColor": "#333333", "symbolSize": 90, "rowPadding": 10.5, "titlePadding": 15, "labelOffset": 6}}}},
        {"data": {"values": [{}]}, "mark": {"type": "rule", "color": "#333333", "strokeWidth": 1}, "encoding": {"x": {"datum": 0}, "y": {"datum": 0}, "x2": {"datum": 400}, "y2": {"datum": 400}}},
        {"data": {"values": [{}]}, "mark": {"type": "text", "text": "E", "fontSize": 28, "fontWeight": "bold", "align": "left", "baseline": "alphabetic", "color": "#000000"}, "encoding": {"x": {"datum": -182}, "y": {"datum": 437}}},
        {"data": {"values": [{}]}, "mark": {"type": "text", "text": "Optimized", "fontSize": 16.5, "fontWeight": "bold", "align": "center", "baseline": "alphabetic", "color": "#111111"}, "encoding": {"x": {"datum": 193}, "y": {"datum": 457}}},
        {"data": {"values": [{}]}, "mark": {"type": "text", "text": "*", "fontSize": 28, "fontWeight": "bold", "align": "center", "baseline": "alphabetic", "color": "#000000"}, "encoding": {"x": {"datum": 372}, "y": {"datum": 287}}}
      ]
    }
  ],
  "spacing": 0, "bounds": "flush", "center": true,
  "resolve": {"scale": {"color": "independent", "shape": "independent"}}
},
{
  "hconcat": [
    {"width": 5, "height": 10, "data": {"values": []}, "mark": "point"},
    {
      "width": 141, "height": 141,
      "layer": [
        {"data": {"name": "b"}, "mark": {"type": "point", "filled": true, "size": 30, "opacity": 1},
         "encoding": {
           "x": {"field": "x", "type": "quantitative", "scale": {"domain": [25, 100], "nice": false, "zero": false}, "axis": {"title": "Passive (% Correct)", "values": [25, 50, 75, 100], "titleFontSize": 16, "labelFontSize": 17}},
           "y": {"field": "y", "type": "quantitative", "scale": {"domain": [25, 100], "nice": false, "zero": false}, "axis": {"title": "Engaged (% Correct)", "values": [25, 50, 75, 100], "titleFontSize": 16, "labelFontSize": 17}},
           "color": {"field": "c", "type": "nominal", "scale": {"domain": ["Neither", "Engaged", "Passive", "Both"], "range": ["#8c8c8c", "#f7941d", "#228b22", "#000000"]}, "legend": null},
           "shape": {"field": "c", "type": "nominal", "scale": {"domain": ["Neither", "Engaged", "Passive", "Both"], "range": ["square", "triangle-up", "circle", "diamond"]}, "legend": null}}},
        {"data": {"values": [{}]}, "mark": {"type": "rule", "color": "#999999", "strokeWidth": 1}, "encoding": {"x": {"datum": 25}, "y": {"datum": 25}, "x2": {"datum": 100}, "y2": {"datum": 100}}},
        {"data": {"values": [{}]}, "mark": {"type": "text", "text": "B", "fontSize": 28, "fontWeight": "bold", "align": "left", "baseline": "alphabetic", "color": "#000000"}, "encoding": {"x": {"datum": -8}, "y": {"datum": 118.6}}},
        {"data": {"values": [{}]}, "mark": {"type": "text", "text": "*", "fontSize": 28, "fontWeight": "bold", "align": "center", "baseline": "alphabetic", "color": "#000000"}, "encoding": {"x": {"datum": 36}, "y": {"datum": 82.1}}}
      ]
    },
    {"width": 96, "height": 10, "data": {"values": []}, "mark": "point"},
    {
      "width": 366, "height": 152,
      "layer": [
        {"data": {"name": "shade"}, "mark": {"type": "rect", "color": "#d5d1cb"},
         "encoding": {
           "x": {"field": "s", "type": "quantitative", "scale": {"domain": [-0.45, 1.0], "nice": false, "zero": false}, "axis": {"title": "Time after stimulus onset (s)", "values": [-0.4, -0.2, 0, 0.2, 0.4, 0.6, 0.8], "labelExpr": "toString(datum.value)", "titleFontSize": 17, "labelFontSize": 16}},
           "x2": {"field": "e"},
           "y": {"datum": 60, "type": "quantitative", "scale": {"domain": [45, 60], "nice": false, "zero": false}, "axis": {"title": "Vowel (% Correct)", "values": [45, 50, 55, 60], "titleFontSize": 16.5, "labelFontSize": 16}},
           "y2": {"datum": 45}}},
        {"data": {"values": [{}]}, "mark": {"type": "rule", "color": "#000000", "strokeWidth": 2, "strokeDash": [7, 5]}, "encoding": {"y": {"datum": 50}}},
        {"data": {"name": "dEe"}, "mark": {"type": "rule", "color": "#f7941d", "strokeWidth": 1.3, "opacity": 0.85}, "encoding": {"x": {"field": "t", "type": "quantitative"}, "y": {"field": "lo", "type": "quantitative"}, "y2": {"field": "hi"}}},
        {"data": {"name": "dPe"}, "mark": {"type": "rule", "color": "#228b22", "strokeWidth": 1.3, "opacity": 0.85}, "encoding": {"x": {"field": "t", "type": "quantitative"}, "y": {"field": "lo", "type": "quantitative"}, "y2": {"field": "hi"}}},
        {"data": {"name": "dE"}, "mark": {"type": "line", "color": "#f7941d", "strokeWidth": 2.2, "interpolate": "monotone"}, "encoding": {"x": {"field": "t", "type": "quantitative"}, "y": {"field": "v", "type": "quantitative"}}},
        {"data": {"name": "dP"}, "mark": {"type": "line", "color": "#228b22", "strokeWidth": 2.2, "interpolate": "monotone"}, "encoding": {"x": {"field": "t", "type": "quantitative"}, "y": {"field": "v", "type": "quantitative"}}},
        {"data": {"values": [{}]}, "mark": {"type": "point", "shape": "triangle-down", "filled": true, "color": "#000000", "size": 140, "opacity": 1}, "encoding": {"x": {"datum": 0.1}, "y": {"datum": 59.8}}},
        {"data": {"values": [{}]}, "mark": {"type": "text", "text": "D", "fontSize": 28, "fontWeight": "bold", "align": "left", "baseline": "alphabetic", "color": "#000000"}, "encoding": {"x": {"datum": -0.442}, "y": {"datum": 61.4}}},
        {"data": {"values": [{}]}, "mark": {"type": "text", "text": "Engaged", "fontSize": 18, "fontWeight": "bold", "align": "left", "baseline": "alphabetic", "color": "#f7941d"}, "encoding": {"x": {"datum": -0.402}, "y": {"datum": 54.0}}},
        {"data": {"values": [{}]}, "mark": {"type": "text", "text": "Passive", "fontSize": 18, "fontWeight": "bold", "align": "left", "baseline": "alphabetic", "color": "#228b22"}, "encoding": {"x": {"datum": -0.378}, "y": {"datum": 46.6}}}
      ]
    },
    {"width": 108, "height": 10, "data": {"values": []}, "mark": "point"},
    {
      "width": 142, "height": 142,
      "layer": [
        {"data": {"name": "f"}, "mark": {"type": "point", "filled": true, "size": 30, "opacity": 1},
         "encoding": {
           "x": {"field": "x", "type": "quantitative", "scale": {"domain": [25, 100], "nice": false, "zero": false}, "axis": {"title": "Passive (% Correct)", "values": [25, 50, 75, 100], "titleFontSize": 16, "labelFontSize": 16}},
           "y": {"field": "y", "type": "quantitative", "scale": {"domain": [25, 100], "nice": false, "zero": false}, "axis": {"title": "Engaged (% Correct)", "values": [25, 50, 75, 100], "titleFontSize": 16, "labelFontSize": 16}},
           "color": {"field": "c", "type": "nominal", "scale": {"domain": ["Neither", "Engaged", "Passive", "Both"], "range": ["#8c8c8c", "#f7941d", "#228b22", "#000000"]}, "legend": null},
           "shape": {"field": "c", "type": "nominal", "scale": {"domain": ["Neither", "Engaged", "Passive", "Both"], "range": ["square", "triangle-up", "circle", "diamond"]}, "legend": null}}},
        {"data": {"values": [{}]}, "mark": {"type": "rule", "color": "#999999", "strokeWidth": 1}, "encoding": {"x": {"datum": 25}, "y": {"datum": 25}, "x2": {"datum": 100}, "y2": {"datum": 100}}},
        {"data": {"values": [{}]}, "mark": {"type": "text", "text": "F", "fontSize": 28, "fontWeight": "bold", "align": "left", "baseline": "alphabetic", "color": "#000000"}, "encoding": {"x": {"datum": -8.8}, "y": {"datum": 111.6}}},
        {"data": {"values": [{}]}, "mark": {"type": "text", "text": "*", "fontSize": 28, "fontWeight": "bold", "align": "center", "baseline": "alphabetic", "color": "#000000"}, "encoding": {"x": {"datum": 90.9}, "y": {"datum": 34.3}}}
      ]
    },
    {"width": 73, "height": 10, "data": {"values": []}, "mark": "point"},
    {
      "width": 178, "height": 142,
      "layer": [
        {"data": {"name": "shade"}, "mark": {"type": "rect", "color": "#d5d1cb"},
         "encoding": {
           "x": {"field": "s", "type": "quantitative", "scale": {"domain": [-0.1, 1.1], "nice": false, "zero": false}, "axis": {"title": "Center Time (s)", "values": [0, 0.5, 1], "labelExpr": "toString(datum.value)", "titleFontSize": 16, "labelFontSize": 16}},
           "x2": {"field": "e"},
           "y": {"datum": 100, "type": "quantitative", "scale": {"domain": [0, 100], "nice": false, "zero": false}, "axis": {"title": "% of units", "values": [0, 50, 100], "titleFontSize": 16.5, "labelFontSize": 16}},
           "y2": {"datum": 0}}},
        {"data": {"name": "gP"}, "mark": {"type": "line", "color": "#228b22", "strokeWidth": 2, "interpolate": "step-after"}, "encoding": {"x": {"field": "t", "type": "quantitative"}, "y": {"field": "v", "type": "quantitative"}}},
        {"data": {"name": "gE"}, "mark": {"type": "line", "color": "#f7941d", "strokeWidth": 2, "interpolate": "step-after"}, "encoding": {"x": {"field": "t", "type": "quantitative"}, "y": {"field": "v", "type": "quantitative"}}},
        {"data": {"values": [{}]}, "mark": {"type": "text", "text": "G", "fontSize": 28, "fontWeight": "bold", "align": "left", "baseline": "alphabetic", "color": "#000000"}, "encoding": {"x": {"datum": -0.383}, "y": {"datum": 114.8}}},
        {"data": {"values": [{}]}, "mark": {"type": "text", "text": "n = 91", "fontSize": 16, "align": "center", "baseline": "alphabetic", "color": "#222222"}, "encoding": {"x": {"datum": 0.932}, "y": {"datum": 114.8}}},
        {"data": {"values": [{}]}, "mark": {"type": "text", "text": "*", "fontSize": 22, "fontWeight": "bold", "align": "center", "baseline": "alphabetic", "color": "#000000"}, "encoding": {"x": {"datum": 0.081}, "y": {"datum": 79.4}}},
        {"data": {"values": [{}]}, "mark": {"type": "text", "text": "Passive", "fontSize": 18.5, "fontWeight": "bold", "align": "left", "baseline": "alphabetic", "color": "#228b22"}, "encoding": {"x": {"datum": 0.696}, "y": {"datum": 26.8}}},
        {"data": {"values": [{}]}, "mark": {"type": "text", "text": "Engaged", "fontSize": 18.5, "fontWeight": "bold", "align": "left", "baseline": "alphabetic", "color": "#f7941d"}, "encoding": {"x": {"datum": 0.683}, "y": {"datum": 11.5}}}
      ]
    }
  ],
  "spacing": 0, "bounds": "flush", "center": true,
  "resolve": {"scale": {"color": "independent", "shape": "independent"}}
}
]
}
